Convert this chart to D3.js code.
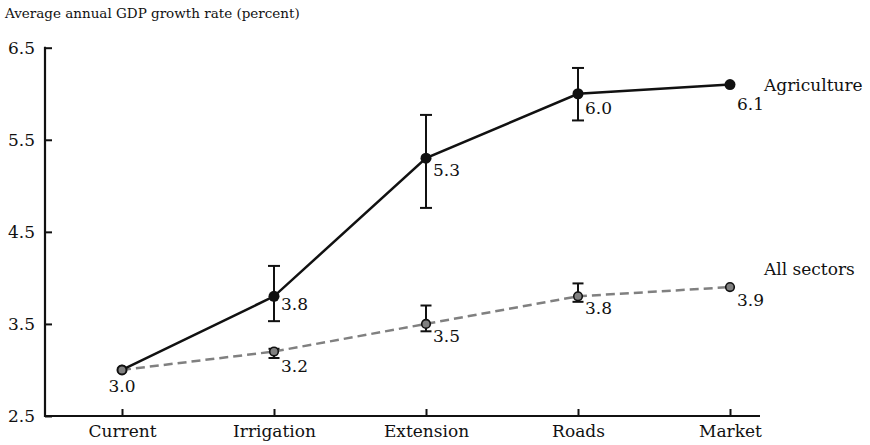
<!DOCTYPE html>
<html>
<head>
<meta charset="utf-8">
<script src="https://cdn.jsdelivr.net/npm/d3@7"></script>
<style>
  html, body { margin: 0; padding: 0; background: #fff; }
  svg { display: block; }
  text { font-family: "DejaVu Serif", "Liberation Serif", serif; fill: #111; }
</style>
</head>
<body>
<div id="chart"></div>
<script>
// Growth scenarios along the x axis
const categories = ["Current", "Irrigation", "Extension", "Roads", "Market"];

// Average annual GDP growth rate (percent) by scenario
const agriculture = [3.0, 3.8, 5.3, 6.0, 6.1];
const allSectors = [3.0, 3.2, 3.5, 3.8, 3.9];

// Range bounds for each scenario (null where no range is reported)
const agricultureLow = [null, 3.53, 4.76, 5.71, null];
const agricultureHigh = [null, 4.13, 5.77, 6.28, null];
const allSectorsLow = [null, 3.13, 3.42, 3.74, null];
const allSectorsHigh = [null, 3.23, 3.70, 3.94, null];

const yTicks = [2.5, 3.5, 4.5, 5.5, 6.5];
const seriesNames = ["Agriculture", "All sectors"];
const yTitle = "Average annual GDP growth rate (percent)";

const W = 870, H = 445;
const axisLeftX = 45, axisRightX = 760, baseY = 416, topY = 47.7;

const svg = d3.select("#chart").append("svg")
  .attr("width", W).attr("height", H);

const x = d3.scalePoint().domain(categories).range([122, 730]);
const y = d3.scaleLinear().domain([2.5, 6.5]).range([baseY, topY]);

// Title above the y axis
svg.append("text")
  .attr("x", 5).attr("y", 18)
  .attr("font-size", 13.5)
  .text(yTitle);

// Y axis, ticks pointing inward
const yAxis = svg.append("g")
  .attr("transform", `translate(${axisLeftX},0)`)
  .call(d3.axisLeft(y).tickValues(yTicks).tickFormat(d3.format(".1f"))
    .tickSize(-7).tickSizeOuter(0).tickPadding(10));
yAxis.select(".domain").remove();
yAxis.selectAll(".tick line").attr("stroke", "#111").attr("stroke-width", 2);
yAxis.selectAll(".tick text").attr("font-size", 17)
  .attr("font-family", "DejaVu Serif, serif").attr("fill", "#111");

// X axis, ticks pointing inward
const xAxis = svg.append("g")
  .attr("transform", `translate(0,${baseY})`)
  .call(d3.axisBottom(x).tickSize(-7).tickSizeOuter(0).tickPadding(9));
xAxis.select(".domain").remove();
xAxis.selectAll(".tick line").attr("stroke", "#111").attr("stroke-width", 2);
xAxis.selectAll(".tick text").attr("font-size", 17)
  .attr("font-family", "DejaVu Serif, serif").attr("fill", "#111");

// Axis lines
svg.append("path")
  .attr("d", `M${axisLeftX},${topY - 1}V${baseY}H${axisRightX}`)
  .attr("fill", "none").attr("stroke", "#111").attr("stroke-width", 2.2);

const line = d3.line()
  .x((d, i) => x(categories[i]))
  .y(d => y(d));

// All sectors: dashed grey line
svg.append("path")
  .datum(allSectors)
  .attr("d", line)
  .attr("fill", "none")
  .attr("stroke", "#808080")
  .attr("stroke-width", 2.5)
  .attr("stroke-dasharray", "9,5");

// Agriculture: solid black line
svg.append("path")
  .datum(agriculture)
  .attr("d", line)
  .attr("fill", "none")
  .attr("stroke", "#111")
  .attr("stroke-width", 2.5);

function errorBars(low, high, capHalf) {
  const idx = categories.map((c, i) => i).filter(i => low[i] != null);
  const g = svg.append("g").attr("stroke", "#111").attr("stroke-width", 2);
  idx.forEach(i => {
    const cx = x(categories[i]);
    g.append("line").attr("x1", cx).attr("x2", cx)
      .attr("y1", y(low[i])).attr("y2", y(high[i]));
    g.append("line").attr("x1", cx - capHalf).attr("x2", cx + capHalf)
      .attr("y1", y(low[i])).attr("y2", y(low[i]));
    g.append("line").attr("x1", cx - capHalf).attr("x2", cx + capHalf)
      .attr("y1", y(high[i])).attr("y2", y(high[i]));
  });
}
errorBars(agricultureLow, agricultureHigh, 6);
errorBars(allSectorsLow, allSectorsHigh, 5.5);

// Markers
svg.append("g").selectAll("circle")
  .data(agriculture).join("circle")
  .attr("cx", (d, i) => x(categories[i]))
  .attr("cy", d => y(d))
  .attr("r", 5.5)
  .attr("fill", "#111");

svg.append("g").selectAll("circle")
  .data(allSectors).join("circle")
  .attr("cx", (d, i) => x(categories[i]))
  .attr("cy", d => y(d))
  .attr("r", 4.3)
  .attr("fill", "#808080")
  .attr("stroke", "#111")
  .attr("stroke-width", 1.6);

// Value labels
const fmt = d3.format(".1f");
function valueLabels(values, dy) {
  svg.append("g").selectAll("text")
    .data(values).join("text")
    .attr("font-size", 17)
    .attr("x", (d, i) => i === 0 ? x(categories[i]) : x(categories[i]) + 7)
    .attr("y", (d, i) => i === 0 ? y(d) + 22 : y(d) + dy[i])
    .attr("text-anchor", (d, i) => i === 0 ? "middle" : "start")
    .text((d, i) => i === 0 && values === agriculture ? "" : fmt(d));
}
valueLabels(agriculture, [0, 14, 18, 20, 25]);
valueLabels(allSectors, [0, 20, 18, 18, 19]);

// Series names at the right end
svg.append("text").attr("font-size", 17)
  .attr("x", 764).attr("y", y(agriculture[4]) + 6).text(seriesNames[0]);
svg.append("text").attr("font-size", 17)
  .attr("x", 764).attr("y", y(allSectors[4]) - 12).text(seriesNames[1]);
</script>
</body>
</html>
